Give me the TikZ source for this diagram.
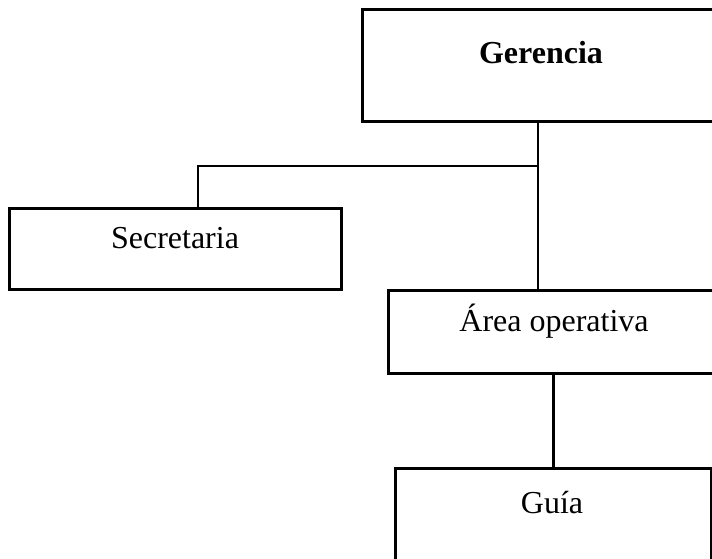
\documentclass[tikz,border=0pt]{standalone}
\usepackage{fontspec}
\setmainfont{Liberation Serif}
\usetikzlibrary{positioning}

\tikzset{
  caja/.style={draw, line width=1.4pt, rectangle, anchor=north west, inner sep=0pt},
  texto/.style={anchor=base, font=\fontsize{16}{19}\selectfont},
  linea/.style={line width=1.4pt}
}

\begin{document}
\begin{tikzpicture}[x=0.5pt,y=-0.5pt]
	\useasboundingbox (0,0) rectangle (712,558);
	\clip (0,0) rectangle (712,558);
	% cajas del organigrama
	\node[caja, minimum width=180pt, minimum height=56pt] (gerencia) at (361,8) {};
	\node[caja, minimum width=166pt, minimum height=40.5pt] (secretaria) at (8,207) {};
	\node[caja, minimum width=167pt, minimum height=41.5pt] (area) at (387,289) {};
	\node[caja, minimum width=158pt, minimum height=55pt] (guia) at (394,467) {};

	% textos
	\node[texto] (gerencia-t) at (541,63) {\textbf{Gerencia}};
	\node[texto] (secretaria-t) at (175,248) {Secretaria};
	\node[texto] (area-t) at (554,331) {Área operativa};
	\node[texto] (guia-t) at (552,513) {Guía};

	% lineas
	\coordinate (rama) at (538,166);
	\coordinate (codo) at (198,166);
	\draw[linea] (gerencia.south -| rama) -- (area.north -| rama);
	\draw[linea] (rama) -- (codo) -- (secretaria.north -| codo);
	\draw[linea] (area.south -| guia.north) -- (guia.north);
\end{tikzpicture}
\end{document}
